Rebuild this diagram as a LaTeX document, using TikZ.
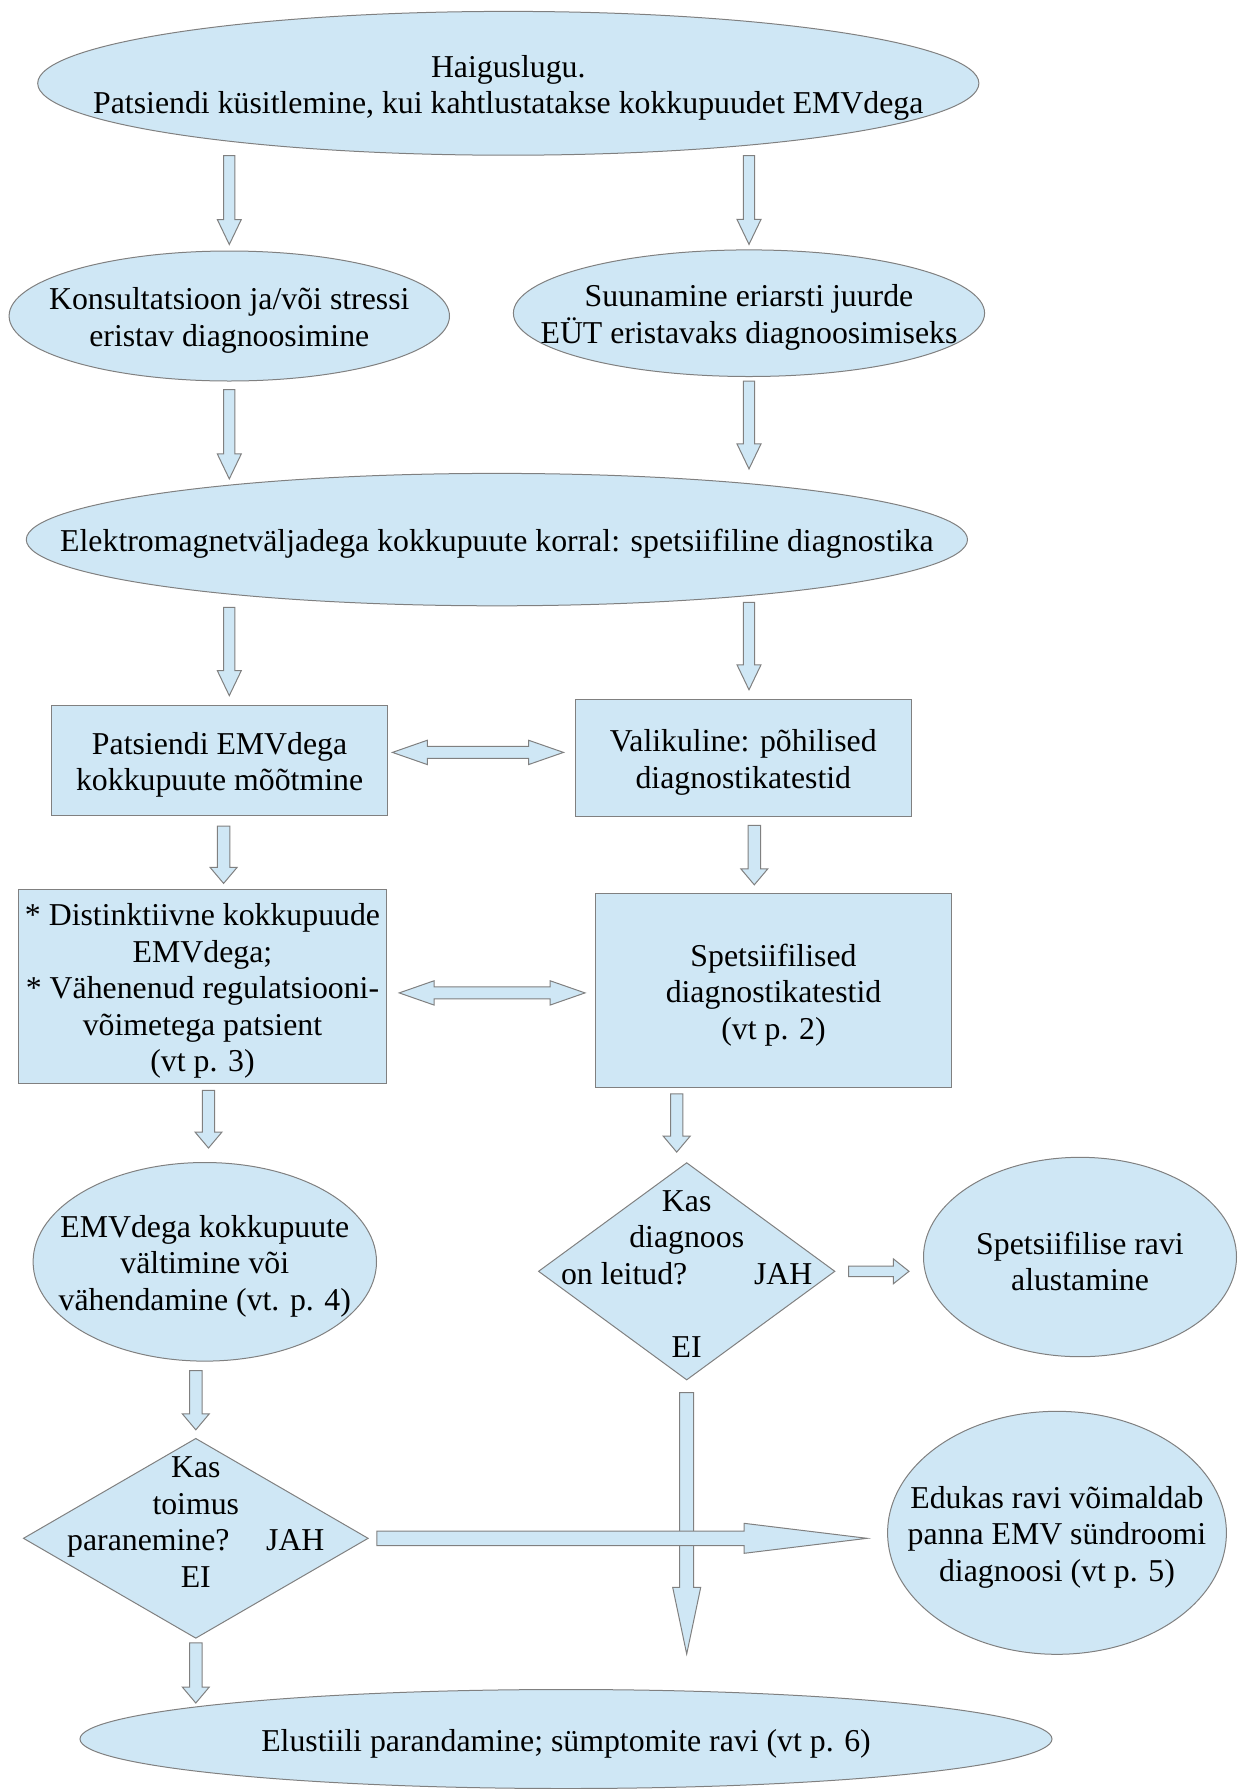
\documentclass[tikz,border=0pt]{standalone}
\usepackage{fontspec}
\setmainfont{Liberation Serif}
\usetikzlibrary{shapes.geometric,calc}
\definecolor{boxblue}{HTML}{CFE7F5}
\definecolor{rim}{HTML}{808080}
\def\headlen{8pt}\def\headw{6.75pt}\def\shaftw{3.1pt}
\tikzset{every node/.style={inner sep=0pt},
  txt/.style={align=center, font=\fontsize{15.9}{18.25}\selectfont, yshift=-2.2pt},
  fillbox/.style={draw=rim, fill=boxblue, line width=0.5pt},
  oval/.style={fillbox, ellipse},
  rect/.style={fillbox, rectangle},
  rhomb/.style={fillbox, diamond},
  arrowbody/.style={fillbox, line join=miter},
  arrowsize/.code args={#1/#2/#3}{\def\headlen{#1}\def\headw{#2}\def\shaftw{#3}},
  longdown/.style={arrowsize=12.5pt/6pt/2.8pt},
  shortdown/.style={arrowsize=8pt/6.75pt/3.1pt},
  yesarrow/.style={arrowsize=7.85pt/6.25pt/2.6pt},
  twoway/.style={arrowsize=17.5pt/6.1pt/3pt},
  noarrow/.style={arrowsize=33.3pt/7pt/3.5pt},
  bigyes/.style={arrowsize=61.5pt/7.5pt/3.6pt}}
% block arrow from #2 to #3
\newcommand\blockarrow[3][]{%
  \begin{scope}[#1]
    \coordinate (ba-s) at (#2);
    \coordinate (ba-e) at (#3);
    \coordinate (ba-h) at ($(ba-e)!\headlen!(ba-s)$);
    \draw[arrowbody] ($(ba-s)!\shaftw!90:(ba-e)$) -- ($(ba-h)!\shaftw!90:(ba-e)$)
      -- ($(ba-h)!\headw!90:(ba-e)$) -- (ba-e) -- ($(ba-h)!\headw!-90:(ba-e)$)
      -- ($(ba-h)!\shaftw!-90:(ba-e)$) -- ($(ba-s)!\shaftw!-90:(ba-e)$) -- cycle;
  \end{scope}}
% block arrow with two heads
\newcommand\blockboth[3][]{%
  \begin{scope}[#1]
    \coordinate (bb-s) at (#2);
    \coordinate (bb-e) at (#3);
    \coordinate (bb-hs) at ($(bb-s)!\headlen!(bb-e)$);
    \coordinate (bb-he) at ($(bb-e)!\headlen!(bb-s)$);
    \draw[arrowbody] (bb-s) -- ($(bb-hs)!\headw!90:(bb-e)$) -- ($(bb-hs)!\shaftw!90:(bb-e)$)
      -- ($(bb-he)!\shaftw!90:(bb-e)$) -- ($(bb-he)!\headw!90:(bb-e)$) -- (bb-e)
      -- ($(bb-he)!\headw!-90:(bb-e)$) -- ($(bb-he)!\shaftw!-90:(bb-e)$)
      -- ($(bb-hs)!\shaftw!-90:(bb-e)$) -- ($(bb-hs)!\headw!-90:(bb-e)$) -- cycle;
  \end{scope}}
\begin{document}
\begin{tikzpicture}[x=0.5pt,y=-0.5pt]
  \useasboundingbox (0,0) rectangle (1239,1789);
  % ovals and boxes
  \node[oval, minimum width=470.6pt, minimum height=71.9pt,
    label={[txt]center:{Haiguslugu.\\Patsiendi küsitlemine, kui kahtlustatakse kokkupuudet EMVdega}}] (hist) at (508.3,83.3) {};
  \node[oval, minimum width=220.2pt, minimum height=65pt,
    label={[txt]center:{Konsultatsioon ja/või stressi\\eristav diagnoosimine}}] (kons) at (229.3,316) {};
  \node[oval, minimum width=235.6pt, minimum height=63.3pt,
    label={[txt]center:{Suunamine eriarsti juurde\\EÜT eristavaks diagnoosimiseks}}] (suun) at (749,313.2) {};
  \node[oval, minimum width=470.6pt, minimum height=66.2pt,
    label={[txt]center:{Elektromagnetväljadega kokkupuute korral: spetsiifiline diagnostika}}] (elek) at (496.9,539.6) {};
  \node[rect, minimum width=168.3pt, minimum height=55.3pt,
    label={[txt]center:{Patsiendi EMVdega\\kokkupuute mõõtmine}}] (mootm) at (219.6,760.4) {};
  \node[rect, minimum width=168.3pt, minimum height=58.8pt,
    label={[txt]center:{Valikuline: põhilised\\diagnostikatestid}}] (valik) at (743.3,758.1) {};
  \node[rect, minimum width=184.2pt, minimum height=97pt,
    label={[txt]center:{* Distinktiivne kokkupuude\\EMVdega;\\* Vähenenud regulatsiooni-\\võimetega patsient\\(vt p. 3)}}] (distin) at (202.5,986.9) {};
  \node[rect, minimum width=178pt, minimum height=97pt,
    label={[txt]center:{Spetsiifilised\\diagnostikatestid\\(vt p. 2)}}] (spets) at (773.5,990.3) {};
  \node[oval, minimum width=171.7pt, minimum height=99.3pt,
    label={[txt]center:{EMVdega kokkupuute\\vältimine või\\vähendamine (vt. p. 4)}}] (valti) at (204.8,1261.8) {};
  \node[rhomb, minimum width=148.3pt, minimum height=108.7pt,
    label={[txt, yshift=1pt]center:{Kas\\diagnoos\\on leitud?\hspace{2.1em}JAH\\[18.25pt]EI}}] (kas1) at (686.7,1271.3) {};
  \node[oval, minimum width=156.5pt, minimum height=99.7pt,
    label={[txt]center:{Spetsiifilise ravi\\alustamine}}] (ravi) at (1080,1257) {};
  \node[rhomb, minimum width=172.5pt, minimum height=100pt,
    label={[txt, yshift=10.2pt]center:{Kas\\toimus\hspace*{0.25em}\\paranemine?\hspace{1.15em}JAH\hspace*{0.5em}\\EI}}] (kas2) at (195.8,1538.3) {};
  \node[oval, minimum width=169.4pt, minimum height=121.5pt,
    label={[txt]center:{Edukas ravi võimaldab\\panna EMV sündroomi\\diagnoosi (vt p. 5)}}] (edukas) at (1057,1532.8) {};
  \node[oval, minimum width=486pt, minimum height=49.5pt,
    label={[txt]center:{Elustiili parandamine; sümptomite ravi (vt p. 6)}}] (elust) at (566,1739) {};
  % block arrows
  \blockarrow[longdown]{kons |- hist.south}{$(kons.north)+(0,-6)$}
  \blockarrow[longdown]{suun |- hist.south}{$(suun.north)+(0,-5)$}
  \blockarrow[longdown]{$(kons.south)+(0,8)$}{$(kons.south |- elek.north)+(0,6)$}
  \blockarrow[longdown]{$(suun.south)+(0,4)$}{$(suun.south |- elek.north)+(0,-4)$}
  \blockarrow[longdown]{$(kons.south |- elek.south)+(0,1)$}{$(kons.south |- mootm.north)+(0,-9)$}
  \blockarrow[longdown]{$(suun.south |- elek.south)+(0,-4)$}{$(suun.south |- valik.north)+(0,-9)$}
  \blockboth[twoway]{$(mootm.east)+(4,-8)$}{$(valik.west |- mootm.east)+(-11,-8)$}
  \blockarrow[shortdown]{$(mootm.south)+(4,10)$}{$(mootm.south |- distin.north)+(4,-6)$}
  \blockarrow[shortdown]{$(valik.south)+(11,8)$}{$(valik.south |- spets.north)+(11,-8)$}
  \blockboth[twoway]{$(distin.east)+(12,6)$}{$(spets.west |- distin.east)+(-10,6)$}
  \blockarrow[shortdown]{$(distin.south)+(6,6)$}{$(distin.south |- valti.north)+(6,-14)$}
  \blockarrow[shortdown]{$(kas1 |- spets.south)+(-10,6)$}{$(kas1.north)+(-10,-10)$}
  \blockarrow[yesarrow]{$(kas1.east)+(13,0)$}{$(ravi.west |- kas1.east)+(-14,0)$}
  \blockarrow[shortdown]{$(kas2 |- valti.south)+(0,9)$}{$(kas2.north)+(0,-8)$}
  \blockarrow[noarrow]{$(kas1.south)+(0,12)$}{$(kas1.south |- elust.north)+(0,-35)$}
  \blockarrow[bigyes]{$(kas2.east)+(8,0)$}{$(edukas.west |- kas2.east)+(-20,0)$}
  \blockarrow[shortdown]{$(kas2.south)+(0,4)$}{$(kas2.south |- elust.north)+(0,14)$}
\end{tikzpicture}
\end{document}
